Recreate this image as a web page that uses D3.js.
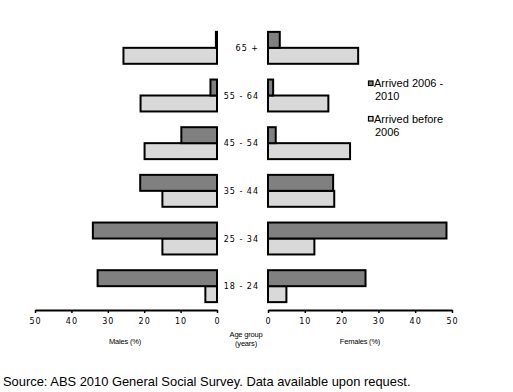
<!DOCTYPE html>
<html><head><meta charset="utf-8">
<script src="https://cdn.jsdelivr.net/npm/d3@7"></script>
<style>
body{margin:0;background:#fff;}
svg{display:block;}
</style></head>
<body>
<script>
const ageGroups = ["65 +","55 - 64","45 - 54","35 - 44","25 - 34","18 - 24"];
const seriesNames = ["Arrived 2006 - 2010","Arrived before 2006"];
const malesRecent = [0.3, 1.8, 9.8, 21.1, 34.1, 32.8];
const malesBefore = [25.7, 21.0, 19.9, 15.0, 15.0, 3.2];
const femalesRecent = [3.2, 1.4, 2.1, 17.7, 48.5, 26.5];
const femalesBefore = [24.5, 16.4, 22.3, 18.0, 12.6, 5.0];
const tickValues = [0,10,20,30,40,50];

const W = 513, H = 392;
const svg = d3.select("body").append("svg").attr("width", W).attr("height", H);

const y = d3.scaleBand().domain(ageGroups).range([24, 310]).paddingInner(0.33).paddingOuter(0.165);
const sub = d3.scaleBand().domain(seriesNames).range([0, y.bandwidth()]);
const xL = d3.scaleLinear().domain([50, 0]).range([35, 217]);
const xR = d3.scaleLinear().domain([0, 50]).range([268, 452]);
const colors = {"Arrived 2006 - 2010": "#808080", "Arrived before 2006": "#d9d9d9"};

function drawBars(vals, name, side) {
  const data = ageGroups.map((g, i) => ({g, v: vals[i]}));
  svg.append("g").selectAll("rect").data(data).join("rect")
    .attr("x", d => side === "L" ? xL(d.v) : xR(0))
    .attr("width", d => side === "L" ? xL(0) - xL(d.v) : xR(d.v) - xR(0))
    .attr("y", d => y(d.g) + sub(name))
    .attr("height", sub.bandwidth())
    .attr("fill", colors[name])
    .attr("stroke", "#000")
    .attr("stroke-width", 2);
}
drawBars(malesBefore, seriesNames[1], "L");
drawBars(malesRecent, seriesNames[0], "L");
drawBars(femalesBefore, seriesNames[1], "R");
drawBars(femalesRecent, seriesNames[0], "R");

function styleAxis(g) {
  g.select(".domain").attr("stroke-width", 2);
  g.selectAll(".tick line").attr("stroke-width", 1.5);
  g.selectAll(".tick text").attr("font-family", "DejaVu Sans").attr("font-size", 8)
    .attr("letter-spacing", 1).attr("fill", "#000").attr("dy", null).attr("y", 13.5);
}
svg.append("g").attr("transform", "translate(0,310)")
  .call(d3.axisBottom(xL).tickValues(tickValues).tickSize(3).tickSizeOuter(0))
  .call(styleAxis);
svg.append("g").attr("transform", "translate(0,310)")
  .call(d3.axisBottom(xR).tickValues(tickValues).tickSize(3).tickSizeOuter(0))
  .call(styleAxis);

// category labels
svg.append("g").selectAll("text").data(ageGroups).join("text")
  .attr("x", 259).attr("y", d => y(d) + y.bandwidth() / 2 + 3)
  .attr("text-anchor", "end")
  .attr("font-family", "DejaVu Sans").attr("font-size", 8).attr("letter-spacing", 1)
  .text(d => d);

// axis titles
function smallText(x, yy, t) {
  svg.append("text").attr("x", x).attr("y", yy).attr("text-anchor", "middle")
    .attr("font-family", "Liberation Sans").attr("font-size", 7.5).attr("letter-spacing", -0.2).text(t);
}
smallText(246, 336.5, "Age group");
smallText(246, 345.5, "(years)");
smallText(125, 344, "Males (%)");
smallText(360, 344, "Females (%)");

// legend
const leg = [
  {name: seriesNames[0], lines: ["Arrived 2006 -", "2010"], y: 81},
  {name: seriesNames[1], lines: ["Arrived before", "2006"], y: 116.5}
];
leg.forEach(l => {
  svg.append("rect").attr("x", 368.5).attr("y", l.y).attr("width", 4.5).attr("height", 4.5)
    .attr("fill", colors[l.name]).attr("stroke", "#000").attr("stroke-width", 1.2);
  l.lines.forEach((t, i) => {
    svg.append("text").attr("x", i === 0 ? 374 : 375).attr("y", l.y + 6 + i * 13)
      .attr("font-family", "Liberation Sans").attr("font-size", 11).text(t);
  });
});

// source
svg.append("text").attr("x", 3).attr("y", 386)
  .attr("font-family", "Liberation Sans").attr("font-size", 12.9)
  .text("Source: ABS 2010 General Social Survey. Data available upon request.");
</script>
</body></html>
